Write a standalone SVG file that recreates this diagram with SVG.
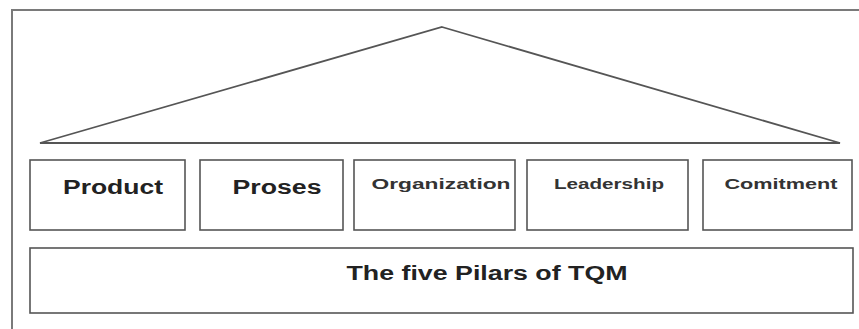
<svg xmlns="http://www.w3.org/2000/svg" width="859" height="329" viewBox="0 0 859 329">
<style>
.frame{fill:none;stroke:#7a7a7a;stroke-width:2}
.box{fill:#fff;stroke:#555;stroke-width:1.6}
.roof{fill:#fff;stroke:#555;stroke-width:1.8;stroke-linejoin:miter}
.big{font-family:"Liberation Sans",Arial,sans-serif;font-weight:bold;font-size:20px;fill:#222;text-anchor:middle}
.small{font-family:"Liberation Sans",Arial,sans-serif;font-weight:bold;font-size:15px;fill:#333;text-anchor:middle}
</style>
<rect x="0" y="0" width="859" height="329" fill="#fff"/>
<path class="frame" d="M12,329 L12,10 L859,10"/>
<g id="roof"><polygon class="roof" points="442,27 840,143 40,143"/></g>
<g id="product"><rect class="box" x="30" y="160" width="155" height="70"/><text class="big" x="113" y="194" textLength="100" lengthAdjust="spacingAndGlyphs">Product</text></g>
<g id="proses"><rect class="box" x="200" y="160" width="143" height="70"/><text class="big" x="277" y="194" textLength="89" lengthAdjust="spacingAndGlyphs">Proses</text></g>
<g id="organization"><rect class="box" x="354" y="160" width="161" height="70"/><text class="small" x="441" y="189" textLength="139" lengthAdjust="spacingAndGlyphs">Organization</text></g>
<g id="leadership"><rect class="box" x="527" y="160" width="161" height="70"/><text class="small" x="609" y="189" textLength="110" lengthAdjust="spacingAndGlyphs">Leadership</text></g>
<g id="comitment"><rect class="box" x="703" y="160" width="149" height="70"/><text class="small" x="781" y="189" textLength="113" lengthAdjust="spacingAndGlyphs">Comitment</text></g>
<g id="base"><rect class="box" x="30" y="248" width="823" height="65"/><text class="big" x="487" y="280" textLength="281" lengthAdjust="spacingAndGlyphs">The five Pilars of TQM</text></g>
<g id="connectors"></g>
</svg>
